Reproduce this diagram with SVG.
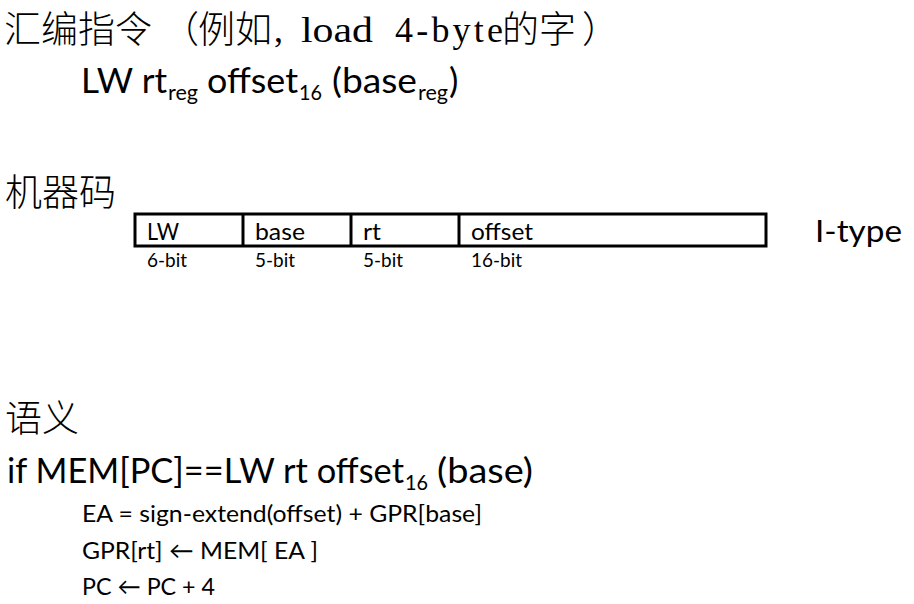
<svg xmlns="http://www.w3.org/2000/svg" width="914" height="604" viewBox="0 0 914 604">
<style>
.cjk{font-family:"Noto Sans CJK SC",sans-serif;font-size:37px;font-weight:300;fill:#000}
.ser{font-family:"Liberation Serif",serif;font-size:36px;fill:#000}
.s{font-family:Lato,"DejaVu Sans",sans-serif;fill:#000}
.box{fill:none;stroke:#000;stroke-width:3}
</style>
<rect width="914" height="604" fill="#fff"/>
<g id="title-asm">
<text class="cjk" x="4" y="43" font-size="37.5">汇编指令</text>
<text class="cjk" x="162" y="43">（</text>
<text class="cjk" x="198" y="43">例如</text>
<text class="ser" x="274" y="42">,</text>
<text class="ser" x="301" y="42" textLength="72" lengthAdjust="spacingAndGlyphs">load</text>
<text class="ser" x="395" y="42" textLength="108" lengthAdjust="spacing">4-byte</text>
<text class="cjk" x="502" y="43">的字</text>
<text class="cjk" x="582" y="43">）</text>
</g>
<g id="asm-syntax" class="s">
<text x="81" y="92.5" font-size="35" textLength="86" lengthAdjust="spacingAndGlyphs">LW rt</text>
<text x="168" y="99.5" font-size="21" textLength="30" lengthAdjust="spacingAndGlyphs">reg</text>
<text x="207" y="92.5" font-size="35" textLength="91" lengthAdjust="spacingAndGlyphs">offset</text>
<text x="299" y="100" font-size="21" textLength="23" lengthAdjust="spacingAndGlyphs">16</text>
<text x="332" y="92.5" font-size="35" textLength="85" lengthAdjust="spacingAndGlyphs">(base</text>
<text x="418" y="99.5" font-size="21" textLength="30" lengthAdjust="spacingAndGlyphs">reg</text>
<text x="449" y="92.5" font-size="35">)</text>
</g>
<g id="title-machine">
<text class="cjk" x="5" y="206">机器码</text>
</g>
<g id="encoding">
<rect class="box" x="135" y="214" width="631" height="32"/>
<line class="box" x1="243" y1="214" x2="243" y2="246"/>
<line class="box" x1="351" y1="214" x2="351" y2="246"/>
<line class="box" x1="459" y1="214" x2="459" y2="246"/>
<g class="s" font-size="24">
<text x="147" y="240" textLength="32" lengthAdjust="spacingAndGlyphs">LW</text>
<text x="255" y="240" textLength="50" lengthAdjust="spacingAndGlyphs">base</text>
<text x="363" y="240" textLength="18" lengthAdjust="spacingAndGlyphs">rt</text>
<text x="471" y="240" textLength="62" lengthAdjust="spacingAndGlyphs">offset</text>
</g>
<g class="s" font-size="18.5">
<text x="147" y="267" textLength="40" lengthAdjust="spacingAndGlyphs">6-bit</text>
<text x="255" y="267" textLength="40" lengthAdjust="spacingAndGlyphs">5-bit</text>
<text x="363" y="267" textLength="40" lengthAdjust="spacingAndGlyphs">5-bit</text>
<text x="471" y="267" textLength="51" lengthAdjust="spacingAndGlyphs">16-bit</text>
</g>
<text class="s" x="815" y="242" font-size="30" textLength="87" lengthAdjust="spacingAndGlyphs">I-type</text>
</g>
<g id="title-semantics">
<text class="cjk" x="5" y="432">语义</text>
</g>
<g id="semantics" class="s">
<text x="7" y="482.5" font-size="34" textLength="397" lengthAdjust="spacingAndGlyphs">if MEM[PC]==LW rt offset</text>
<text x="405" y="490" font-size="21" textLength="23" lengthAdjust="spacingAndGlyphs">16</text>
<text x="437" y="482.5" font-size="34" textLength="96" lengthAdjust="spacingAndGlyphs">(base)</text>
<text x="82" y="521.5" font-size="23.5" textLength="400" lengthAdjust="spacingAndGlyphs">EA = sign-extend(offset) + GPR[base]</text>
<text x="82" y="558.5" font-size="23.5" textLength="236" lengthAdjust="spacingAndGlyphs">GPR[rt] ← MEM[ EA ]</text>
<text x="82" y="595" font-size="23.5" textLength="133" lengthAdjust="spacingAndGlyphs">PC ← PC + 4</text>
</g>
</svg>
